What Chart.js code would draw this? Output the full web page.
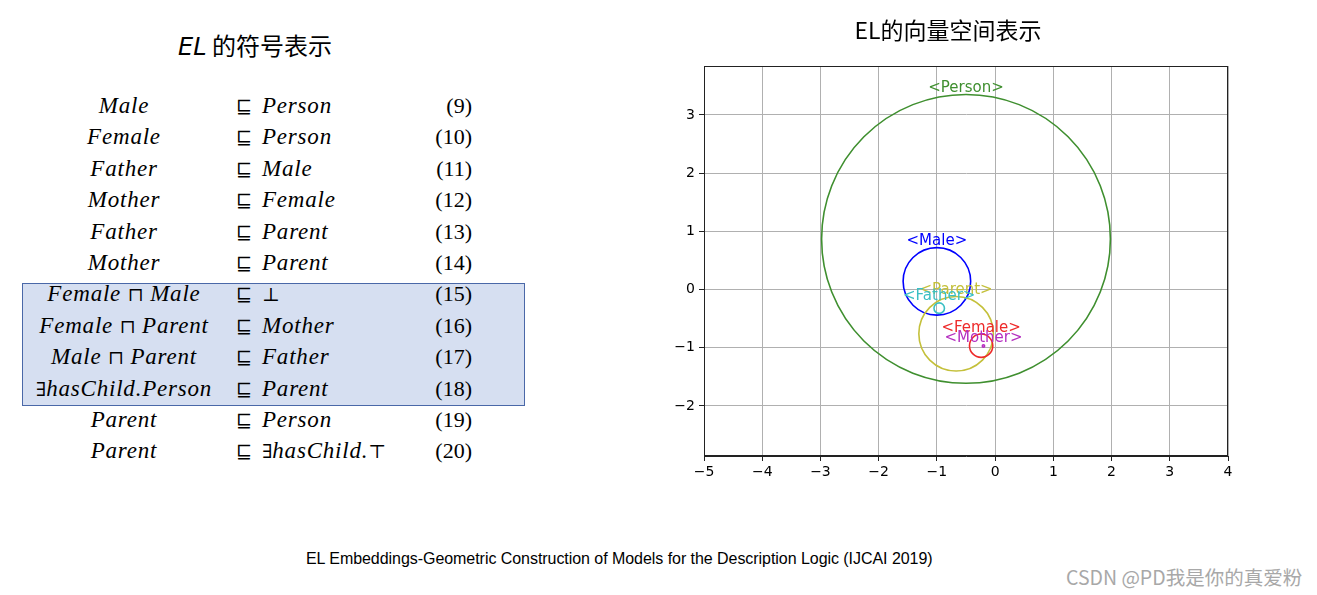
<!DOCTYPE html>
<html>
<head>
<meta charset="utf-8">
<script src="https://cdn.jsdelivr.net/npm/chart.js@4.4.0/dist/chart.umd.min.js"></script>
<style>
body { margin: 0; width: 1317px; height: 595px; background: #fff; position: relative; overflow: hidden; }
#leftTitle { position: absolute; left: 0; width: 510px; top: 29px; line-height: 32px; text-align: center; font-size: 24px; font-family: "Noto Sans CJK SC"; color: #000; }
#leftTitle i { font-family: "DejaVu Sans"; font-style: oblique; }
#axiomBox { position: absolute; left: 22px; top: 283px; width: 501px; height: 121px; background: #d6dff1; border: 1.5px solid #4a68a8; }
.row { position: absolute; left: 0; height: 30px; line-height: 30px; font-family: "Liberation Serif"; font-size: 23px; color: #000; white-space: nowrap; }
.lhs { position: absolute; left: 0; width: 248px; text-align: center; font-style: italic; letter-spacing: 0.8px; }
.sub { position: absolute; left: 236px; font-family: "DejaVu Serif"; font-size: 19px; }
.rhs { position: absolute; left: 262px; font-style: italic; letter-spacing: 0.8px; }
.num { position: absolute; left: 380px; width: 92px; text-align: right; font-size: 22px; }
.op { font-style: normal; font-family: "DejaVu Serif"; font-size: 19px; letter-spacing: 0; }
#chartBox { position: absolute; left: 668px; top: 0; width: 592px; height: 500px; }
#caption { position: absolute; left: 306px; top: 550px; font-family: "Liberation Sans"; font-size: 16px; color: #000; white-space: nowrap; letter-spacing: -0.05px; }
#mark { position: absolute; left: 1066px; top: 562px; font-family: "Noto Sans CJK SC"; font-size: 19.5px; color: #a8a8a8; white-space: nowrap; }
</style>
</head>
<body>
<div id="leftTitle"><i>EL</i> 的符号表示</div>
<div id="axiomBox"></div>
<div id="rows"></div>
<div id="chartBox"><canvas id="chart" width="592" height="500"></canvas></div>
<div id="caption">EL Embeddings-Geometric Construction of Models for the Description Logic (IJCAI 2019)</div>
<div id="mark">CSDN @PD我是你的真爱粉</div>
<script>
// left side: the axioms
const axiomLhs = ['Male', 'Female', 'Father', 'Mother', 'Father', 'Mother',
    'Female ⊓ Male', 'Female ⊓ Parent', 'Male ⊓ Parent', '∃hasChild.Person', 'Parent', 'Parent'];
const axiomRhs = ['Person', 'Person', 'Male', 'Female', 'Parent', 'Parent',
    '⊥', 'Mother', 'Father', 'Parent', 'Person', '∃hasChild.⊤'];
const axiomNums = ['(9)', '(10)', '(11)', '(12)', '(13)', '(14)', '(15)', '(16)', '(17)', '(18)', '(19)', '(20)'];

// right side: embedding circles
const circleNames = ['Person', 'Male', 'Parent', 'Father', 'Female', 'Mother'];
const centerX = [-0.5, -1.0, -0.67, -0.96, -0.24, -0.2];
const centerY = [0.87, 0.14, -0.76, -0.32, -0.965, -0.97];
const radii = [2.48, 0.58, 0.64, 0.09, 0.2, 0.02];
const circleColors = ['#3f8f2f', '#0000ff', '#c4c03a', '#3abfc4', '#ee2a2a', '#b52fc0'];
const xTicks = [-5, -4, -3, -2, -1, 0, 1, 2, 3, 4];
const yTicks = [-2, -1, 0, 1, 2, 3];

function mathHtml(s) {
    return s.replace(/[⊓∃⊥⊤]/g, c => '<span class="op">' + c + '</span>');
}

const rowsDiv = document.getElementById('rows');
axiomLhs.forEach(function(lhs, i) {
    const row = document.createElement('div');
    row.className = 'row';
    row.style.top = (106 + i * 31.4 - 15) + 'px';
    row.style.width = '500px';
    row.innerHTML = '<span class="lhs">' + mathHtml(lhs) + '</span>' +
        '<span class="sub">⊑</span>' +
        '<span class="rhs">' + mathHtml(axiomRhs[i]) + '</span>' +
        '<span class="num">' + axiomNums[i] + '</span>';
    rowsDiv.appendChild(row);
});

const tickFmt = v => v < 0 ? '\u2212' + Math.abs(v) : String(v);

const circleLabels = {
    id: 'circleLabels',
    afterDatasetsDraw(chart) {
        const { ctx, chartArea } = chart;
        const x = chart.scales.x, y = chart.scales.y;
        ctx.save();
        ctx.font = '15px "DejaVu Sans"';
        ctx.textAlign = 'center';
        ctx.textBaseline = 'middle';
        circleNames.forEach(function(name, i) {
            ctx.fillStyle = circleColors[i];
            ctx.fillText('<' + name + '>', x.getPixelForValue(centerX[i]), y.getPixelForValue(centerY[i] + radii[i] + 0.11));
        });
        // axes frame
        ctx.strokeStyle = '#222';
        ctx.lineWidth = 1;
        ctx.strokeRect(Math.round(chartArea.left) + 0.5, Math.round(chartArea.top) + 0.5,
            Math.round(chartArea.width) - 1, Math.round(chartArea.height) - 1);
        ctx.restore();
    }
};

const tickFont = { family: 'DejaVu Sans', size: 14 };

function pixelRadius(c) {
    if (c.type !== 'data') return 3;
    const s = c.chart.scales.x;
    return Math.abs(s.getPixelForValue(radii[c.dataIndex]) - s.getPixelForValue(0));
}

new Chart(document.getElementById('chart').getContext('2d'), {
    type: 'scatter',
    data: {
        datasets: [{
            data: circleNames.map((n, i) => ({ x: centerX[i], y: centerY[i] })),
            pointRadius: pixelRadius,
            pointHoverRadius: pixelRadius,
            pointBorderColor: circleColors,
            pointBackgroundColor: 'rgba(0,0,0,0)',
            pointBorderWidth: 1.6,
            pointHoverBorderWidth: 1.6
        }]
    },
    options: {
        responsive: false,
        animation: false,
        devicePixelRatio: 1,
        layout: { padding: { left: 0, right: 32, top: 0, bottom: 0 } },
        plugins: {
            legend: { display: false },
            tooltip: { enabled: false },
            title: {
                display: true,
                text: 'EL的向量空间表示',
                color: '#000',
                font: { family: 'Noto Sans CJK SC', size: 23, weight: 'normal', lineHeight: 1.2 },
                padding: { top: 16, bottom: 22.4 }
            }
        },
        scales: {
            x: {
                type: 'linear',
                min: -5,
                max: 4,
                afterBuildTicks: s => { s.ticks = xTicks.map(v => ({ value: v })); },
                afterFit: s => { s.height = 44; },
                grid: { color: '#b0b0b0', tickColor: '#222', tickLength: 5, lineWidth: 1 },
                border: { color: '#222' },
                ticks: { color: '#000', font: tickFont, padding: 3, maxRotation: 0, callback: tickFmt }
            },
            y: {
                type: 'linear',
                min: -2.86,
                max: 3.84,
                afterBuildTicks: s => { s.ticks = yTicks.map(v => ({ value: v })); },
                afterFit: s => { s.width = 36; },
                grid: { color: '#b0b0b0', tickColor: '#222', tickLength: 5, lineWidth: 1 },
                border: { color: '#222' },
                ticks: { color: '#000', font: tickFont, padding: 4, callback: tickFmt }
            }
        }
    },
    plugins: [circleLabels]
});
</script>
</body>
</html>
